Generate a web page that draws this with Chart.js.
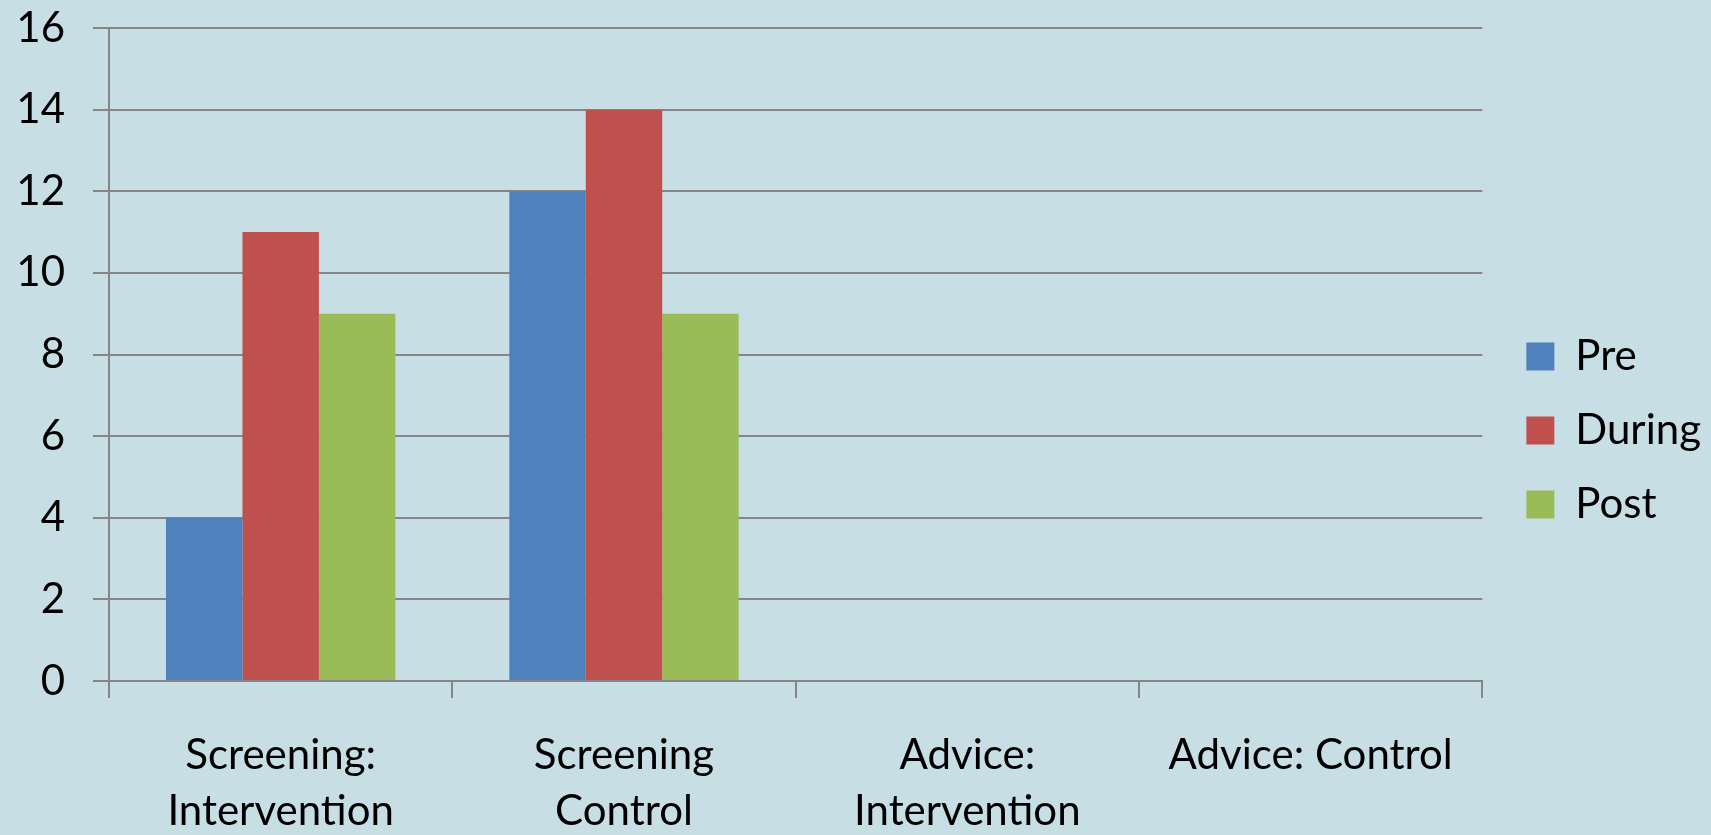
<!DOCTYPE html>
<html>
<head>
<meta charset="utf-8">
<script src="https://cdn.jsdelivr.net/npm/chart.js@4/dist/chart.umd.min.js"></script>
<style>
  html, body { margin: 0; padding: 0; background: #C6DEE4; }
  #wrap { width: 1711px; height: 835px; position: relative; }
</style>
</head>
<body>
<div id="wrap"><canvas id="c"></canvas></div>
<script>
const categories = [["Screening:", "Intervention"], ["Screening", "Control"], ["Advice:", "Intervention"], "Advice: Control"];
const preValues = [4, 12, 0, 0];
const duringValues = [11, 14, 0, 0];
const postValues = [9, 9, 0, 0];
const seriesNames = ["Pre", "During", "Post"];
const yTicks = [0, 2, 4, 6, 8, 10, 12, 14, 16];

const gridColor = '#868686';
const fontFamily = 'Lato, "Open Sans", sans-serif';

const bgPlugin = {
  id: 'bg',
  beforeDraw(chart) {
    const ctx = chart.ctx;
    ctx.save();
    ctx.fillStyle = '#C6DEE4';
    ctx.fillRect(0, 0, chart.width, chart.height);
    ctx.restore();
  }
};

const legendNudge = {
  id: 'legendNudge',
  afterLayout(chart) {
    if (chart.legend) { chart.legend.left += 12; chart.legend.right += 12; }
  }
};

new Chart(document.getElementById('c'), {
  type: 'bar',
  data: {
    labels: categories,
    datasets: [
      { label: seriesNames[0], data: preValues, backgroundColor: '#4F81BD', borderWidth: 0 },
      { label: seriesNames[1], data: duringValues, backgroundColor: '#C0504D', borderWidth: 0 },
      { label: seriesNames[2], data: postValues, backgroundColor: '#9BBB59', borderWidth: 0 }
    ]
  },
  options: {
    responsive: true,
    maintainAspectRatio: false,
    animation: false,
    datasets: { bar: { categoryPercentage: 0.668, barPercentage: 1.0 } },
    layout: { padding: { left: 0, top: 0, right: 12, bottom: 0 } },
    plugins: {
      tooltip: { enabled: false },
      legend: {
        position: 'right',
        align: 'center',
        title: { display: true, text: '', font: { size: 1 }, padding: { top: 25, bottom: 0 } },
        labels: {
          boxWidth: 28,
          boxHeight: 28,
          padding: 32,
          color: '#000',
          font: { family: fontFamily, size: 42 }
        }
      }
    },
    scales: {
      x: {
        afterFit(axis) { axis.height = 154; axis.paddingLeft = 0; axis.paddingRight = 0; },
        grid: { display: true, drawOnChartArea: false, offset: true, color: gridColor, lineWidth: 2, tickLength: 17 },
        border: { display: true, color: gridColor, width: 2 },
        ticks: { color: '#000', font: { family: fontFamily, size: 42, lineHeight: 1.33 }, padding: 30, maxRotation: 0, autoSkip: false }
      },
      y: {
        min: 0,
        max: 16,
        afterBuildTicks(axis) { axis.ticks = yTicks.map(v => ({ value: v })); },
        afterFit(axis) { axis.width = 109; axis.paddingTop = 28; axis.paddingBottom = 0; },
        grid: { color: gridColor, lineWidth: 2, tickLength: 16 },
        border: { display: true, color: gridColor, width: 2 },
        ticks: { color: '#000', font: { family: fontFamily, size: 42 }, padding: 28 }
      }
    }
  },
  plugins: [bgPlugin, legendNudge]
});
</script>
</body>
</html>
